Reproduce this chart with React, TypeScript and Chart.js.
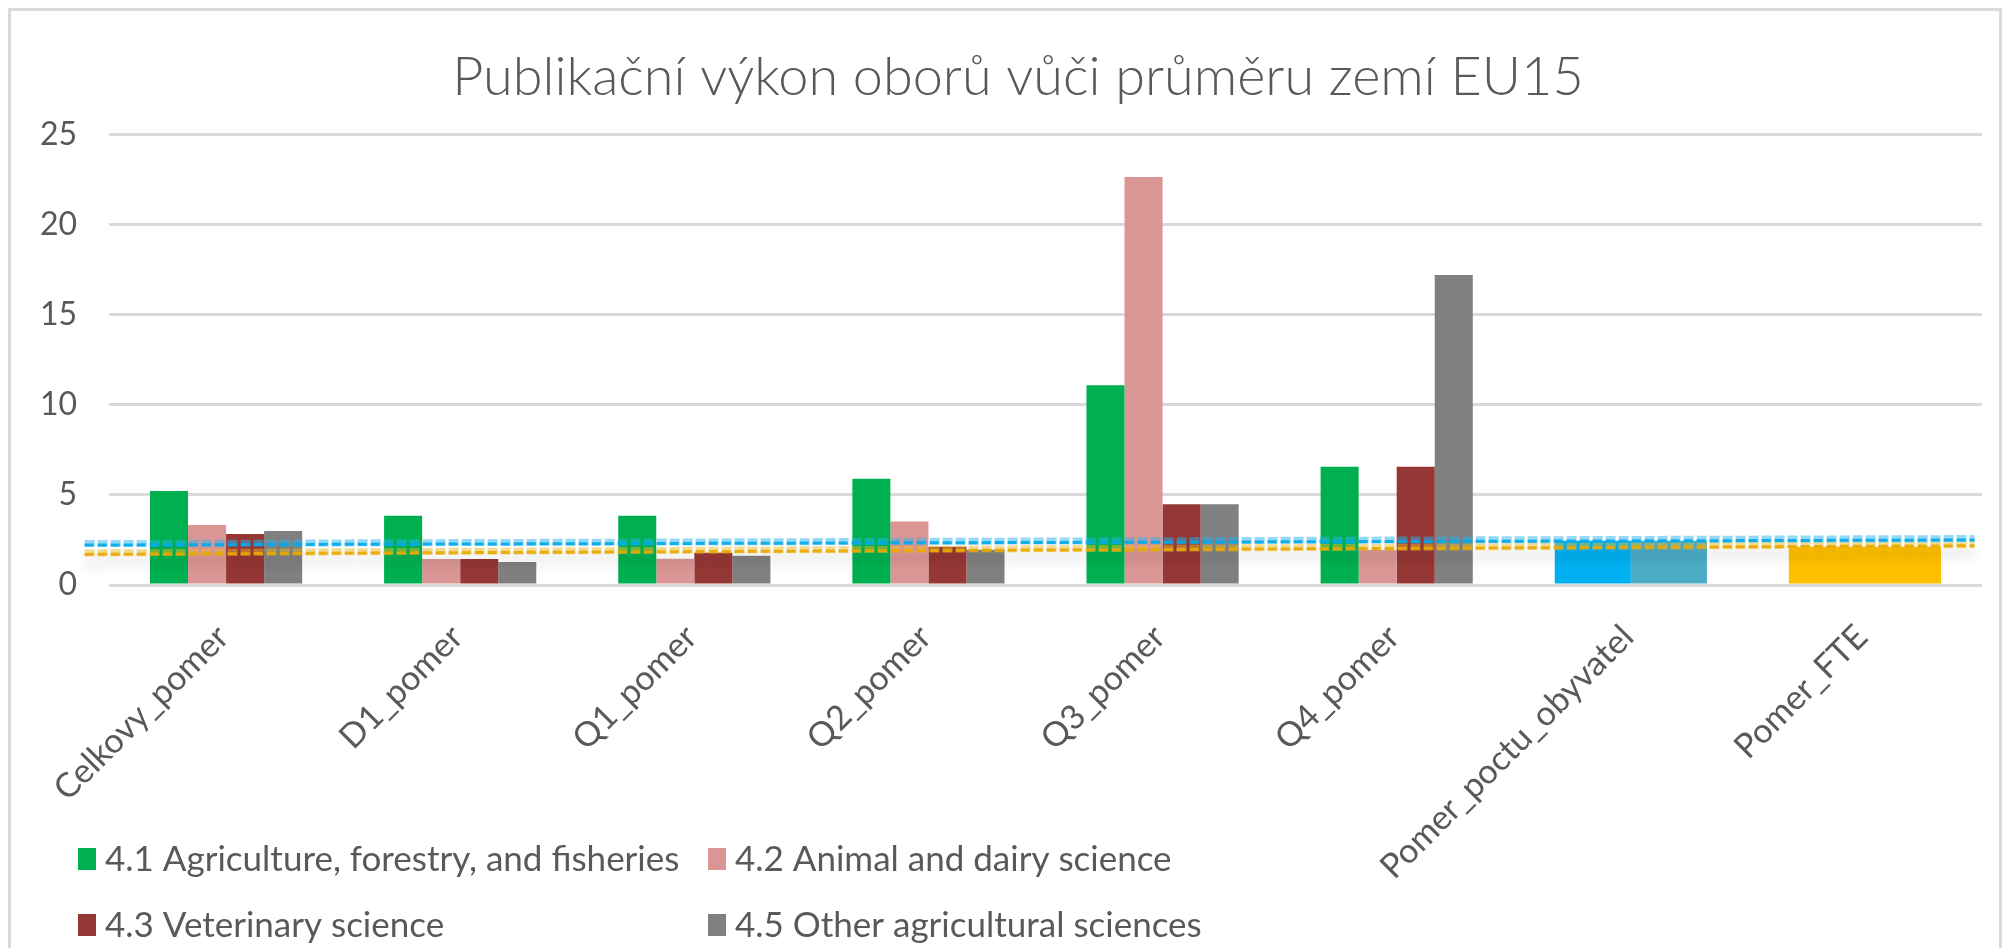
import React, { useEffect, useRef } from "react";
import { Chart, registerables } from "chart.js";

Chart.register(...registerables);

// ---- data ----
const categories = [
  "Celkovy_pomer",
  "D1_pomer",
  "Q1_pomer",
  "Q2_pomer",
  "Q3_pomer",
  "Q4_pomer",
  "Pomer_poctu_obyvatel",
  "Pomer_FTE",
];
const seriesNames = [
  "4.1 Agriculture, forestry, and fisheries",
  "4.2 Animal and dairy science",
  "4.3 Veterinary science",
  "4.5 Other agricultural sciences",
];
const agriculture = [5.22, 3.85, 3.85, 5.9, 11.09, 6.57, null, null];
const animalDairy = [3.33, 1.45, 1.46, 3.52, 22.65, 1.95, null, null];
const veterinary = [2.83, 1.45, 1.79, 2.13, 4.49, 6.57, null, null];
const otherAgri = [3.0, 1.28, 1.63, 1.96, 4.49, 17.22, null, null];
const ratioA = [null, null, null, null, null, null, 2.46, 2.13];
const ratioB = [null, null, null, null, null, null, 2.46, null];
// reference lines: fraction of plot width where they start / end, and their values there
const lineX = [-0.013, 0.996];
const blueLine = [2.22, 2.5];
const blueGlow = [2.3, 2.58];
const orangeLine = [1.7, 2.18];
const yellowGlow = [1.78, 2.24];
const yTicksMax = 25;
const yTickStep = 5;

const TEXT = "#595959";
const FONT = "Lato, 'Open Sans', sans-serif";

const seriesColors = ["#00B050", "#DA9694", "#953735", "#808080"];
const ratioAColors = ["#00B0F0", "#00B0F0", "#00B0F0", "#00B0F0", "#00B0F0", "#00B0F0", "#00B0F0", "#FFC000"];
const ratioBColors = ["#4BACC6", "#4BACC6", "#4BACC6", "#4BACC6", "#4BACC6", "#4BACC6", "#4BACC6", "#FFC000"];

const refLines = [
  { values: yellowGlow, color: "rgba(240,190,40,0.5)", width: 7, dash: [10, 3], shadow: true },
  { values: blueGlow, color: "rgba(40,180,240,0.5)", width: 7, dash: [10, 3], shadow: true },
  { values: orangeLine, color: "rgba(235,168,0,0.9)", width: 3, dash: [9, 4], shadow: false },
  { values: blueLine, color: "rgba(0,170,235,0.9)", width: 3, dash: [9, 4], shadow: false },
];

export default function App() {
  const ref = useRef<HTMLCanvasElement>(null);

  useEffect(() => {
    if (!ref.current) return;
    Chart.defaults.font.family = FONT;
    Chart.defaults.color = TEXT;

    const refLinePlugin = {
      id: "refLines",
      afterDatasetsDraw(chart: any) {
        const { ctx, chartArea } = chart;
        const y = chart.scales.y;
        const xAt = (f: number) => chartArea.left + f * (chartArea.right - chartArea.left);
        refLines.forEach((l) => {
          ctx.save();
          if (l.shadow) {
            ctx.shadowColor = "rgba(0,0,0,0.16)";
            ctx.shadowBlur = 10;
            ctx.shadowOffsetY = 12;
          }
          ctx.strokeStyle = l.color;
          ctx.lineWidth = l.width;
          ctx.setLineDash(l.dash);
          ctx.beginPath();
          ctx.moveTo(xAt(lineX[0]), y.getPixelForValue(l.values[0]));
          ctx.lineTo(xAt(lineX[1]), y.getPixelForValue(l.values[1]));
          ctx.stroke();
          ctx.restore();
        });
      },
    };

    const legendPlugin = {
      id: "gridLegend",
      afterDraw(chart: any) {
        const ctx = chart.ctx;
        const pos = [
          [67, 848],
          [697, 848],
          [67, 914],
          [697, 914],
        ];
        ctx.save();
        ctx.font = `35px ${FONT}`;
        ctx.textBaseline = "middle";
        ctx.textAlign = "left";
        chart.data.datasets.slice(0, 4).forEach((ds: any, i: number) => {
          const [x, y] = pos[i];
          ctx.fillStyle = ds.backgroundColor;
          ctx.fillRect(x, y - 11, 18, 22);
          ctx.fillStyle = TEXT;
          ctx.fillText(ds.label, x + 27, y + 1);
        });
        ctx.restore();
      },
    };

    const barCommon = {
      categoryPercentage: 0.65,
      barPercentage: 1,
      skipNull: true,
    };

    const chart = new Chart(ref.current, {
      type: "bar",
      data: {
        labels: categories,
        datasets: [
          { ...barCommon, label: seriesNames[0], data: agriculture, backgroundColor: seriesColors[0] },
          { ...barCommon, label: seriesNames[1], data: animalDairy, backgroundColor: seriesColors[1] },
          { ...barCommon, label: seriesNames[2], data: veterinary, backgroundColor: seriesColors[2] },
          { ...barCommon, label: seriesNames[3], data: otherAgri, backgroundColor: seriesColors[3] },
          { ...barCommon, label: "Pomer A", data: ratioA, backgroundColor: ratioAColors },
          { ...barCommon, label: "Pomer B", data: ratioB, backgroundColor: ratioBColors },
        ] as any,
      },
      options: {
        responsive: false,
        animation: false,
        devicePixelRatio: 1,
        layout: { padding: { left: 26, right: 0, top: 0, bottom: 0 } },
        plugins: {
          legend: { display: false },
          tooltip: { enabled: false },
          title: {
            display: true,
            text: "Publikační výkon oborů vůči průměru zemí EU15",
            color: TEXT,
            font: { family: FONT, size: 54, weight: "300" as any, lineHeight: 1.2 },
            padding: { top: 34, bottom: 25 },
          },
        },
        scales: {
          x: {
            type: "category",
            offset: true,
            grid: { display: false, drawTicks: false },
            border: { display: false },
            ticks: {
              minRotation: 45,
              maxRotation: 45,
              autoSkip: false,
              padding: 32,
              labelOffset: -3,
              color: TEXT,
              font: { family: FONT, size: 34 },
            },
            afterFit(s: any) {
              s.height = 386;
            },
          },
          y: {
            min: 0,
            max: yTicksMax,
            ticks: {
              stepSize: yTickStep,
              padding: 32,
              color: TEXT,
              font: { family: FONT, size: 32 },
            },
            grid: { color: "#D9D9D9", lineWidth: 3, drawTicks: false },
            border: { display: false },
            afterFit(s: any) {
              s.width = 72;
            },
          },
          yR: {
            type: "linear",
            position: "right",
            display: true,
            grid: { display: false, drawTicks: false },
            border: { display: false },
            ticks: { display: false },
            afterFit(s: any) {
              s.width = 17;
            },
          },
        } as any,
      },
      plugins: [refLinePlugin, legendPlugin],
    });

    return () => chart.destroy();
  }, []);

  return (
    <div style={{ width: 1988, height: 960, border: "3px solid #D9D9D9", background: "#fff" }}>
      <canvas ref={ref} width={1988} height={960} style={{ display: "block" }} />
    </div>
  );
}
